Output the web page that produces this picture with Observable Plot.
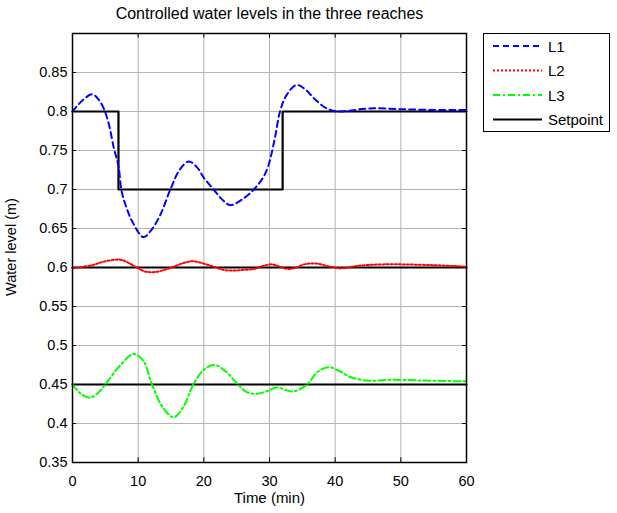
<!DOCTYPE html>
<html><head><meta charset="utf-8">
<script src="https://cdn.jsdelivr.net/npm/d3@7"></script>
<script src="https://cdn.jsdelivr.net/npm/@observablehq/plot@0.6"></script>
<style>
body{margin:0;background:#fff;font-family:"Liberation Sans",Arial,sans-serif;}
#wrap{position:relative;width:617px;height:513px;}
#title{position:absolute;left:72px;width:395px;top:5px;text-align:center;font-size:16px;color:#000;}
#legend{position:absolute;left:483px;top:33px;width:127px;height:99px;border:1px solid #000;box-sizing:border-box;background:#fff;}
#legend svg{display:block}
#ylab{position:absolute;left:11px;top:247px;transform:translate(-50%,-50%) rotate(-90deg);font-size:14.5px;white-space:nowrap;}
#xlab{position:absolute;left:72px;width:395px;top:489px;text-align:center;font-size:15px;}
</style></head>
<body><div id="wrap">
<div id="chart"></div>
<div id="title">Controlled water levels in the three reaches</div>
<div id="ylab">Water level (m)</div>
<div id="xlab">Time (min)</div>
<div id="legend"></div>
</div>
<script>
const seriesNames = ["L1","L2","L3","Setpoint"];
const xTicks = [0,10,20,30,40,50,60];
const yTicks = [0.35,0.4,0.45,0.5,0.55,0.6,0.65,0.7,0.75,0.8,0.85];
const yTickLabels = ["0.35","0.4","0.45","0.5","0.55","0.6","0.65","0.7","0.75","0.8","0.85"];

const tL1 = [0,1.5,3.0,4.0,4.75,5.5,6.3,7.0,7.5,8.3,9.1,10.8,12.0,13.4,14.9,16.3,17.7,19.0,20.0,21.5,22.7,24.0,25.8,27.6,29.0,29.8,30.8,31.6,32.6,34.1,35.5,37.0,38.7,40.2,42.0,45.3,49.8,55,60];
const vL1 = [0.800,0.814,0.822,0.815,0.804,0.785,0.753,0.730,0.697,0.675,0.659,0.639,0.648,0.668,0.700,0.725,0.736,0.728,0.715,0.700,0.688,0.680,0.687,0.700,0.715,0.730,0.765,0.800,0.821,0.834,0.828,0.815,0.804,0.800,0.801,0.804,0.803,0.802,0.802];

const tL2 = [0,3,5,7.3,8.5,9.8,11,12.4,14,15.4,17,18.4,20,21.5,23,24.5,26,27.6,29,30.4,31.6,32.8,34.1,35.3,37.2,39.2,41.2,43.3,47.3,54.9,60];
const vL2 = [0.599,0.603,0.608,0.610,0.606,0.600,0.595,0.594,0.597,0.601,0.606,0.608,0.605,0.601,0.597,0.596,0.597,0.598,0.602,0.604,0.601,0.598,0.600,0.604,0.605,0.601,0.599,0.602,0.604,0.603,0.601];

const tL3 = [0,1.3,2.7,4,5,7,9.3,10.8,12.1,13.8,15.4,16.8,18.4,20,21.7,23.3,25,26.4,27.8,29.5,31.1,33.6,35.7,37.3,39,40.5,42.2,44.8,48.8,53.9,60];
const vL3 = [0.450,0.438,0.433,0.440,0.450,0.472,0.489,0.480,0.450,0.420,0.408,0.420,0.450,0.469,0.475,0.467,0.452,0.441,0.438,0.441,0.446,0.441,0.450,0.466,0.472,0.468,0.460,0.455,0.456,0.455,0.454];

const tSP1 = [0,7,7,32,32,60];
const vSP1 = [0.8,0.8,0.7,0.7,0.8,0.8];
const tSP = [0,60];
const vSP2 = [0.6,0.6];
const vSP3 = [0.45,0.45];

const colors = {L1:"#0000ff", L2:"#ff0000", L3:"#00ff00", Setpoint:"#000000"};
const dashes = {L1:"6,4", L2:"2,2", L3:"7,3,2,3", Setpoint:null};

const mk = (t,v) => t.map((x,i)=>({t:x, v:v[i]}));
const d1 = mk(tL1,vL1), d2 = mk(tL2,vL2), d3_ = mk(tL3,vL3);

const plot = Plot.plot({
  width:617, height:513,
  marginLeft:72, marginRight:151, marginTop:33, marginBottom:51,
  style:{fontFamily:"Liberation Sans, Arial, sans-serif", fontSize:"14.5px", color:"#000", background:"#fff"},
  x:{domain:[0,60], ticks:xTicks, tickSize:0, tickPadding:13, label:null},
  y:{domain:[0.35,0.9], ticks:yTicks, tickSize:0, tickPadding:5, label:null,
     tickFormat:d=>yTickLabels[yTicks.findIndex(v=>Math.abs(v-d)<1e-9)]},
  marks:[
    Plot.gridX(xTicks,{stroke:"#b4b4b4", strokeOpacity:1, strokeWidth:1}),
    Plot.gridY(yTicks,{stroke:"#b4b4b4", strokeOpacity:1, strokeWidth:1}),
    Plot.ruleY(yTicks,{x1:0, x2:0.6, stroke:"#000"}),
    Plot.ruleY(yTicks,{x1:59.4, x2:60, stroke:"#000"}),
    Plot.ruleX(xTicks,{y1:0.35, y2:0.356, stroke:"#000"}),
    Plot.ruleX(xTicks,{y1:0.894, y2:0.9, stroke:"#000"}),
    Plot.line(mk(tSP1,vSP1),{x:"t", y:"v", stroke:"#000", strokeWidth:2.2}),
    Plot.line(mk(tSP,vSP2),{x:"t", y:"v", stroke:"#000", strokeWidth:2.2}),
    Plot.line(mk(tSP,vSP3),{x:"t", y:"v", stroke:"#000", strokeWidth:2.2}),
    Plot.line(d1,{x:"t", y:"v", stroke:colors.L1, strokeWidth:2, strokeDasharray:dashes.L1, curve:"catmull-rom"}),
    Plot.line(d2,{x:"t", y:"v", stroke:colors.L2, strokeWidth:2, strokeDasharray:dashes.L2, curve:"catmull-rom"}),
    Plot.line(d3_,{x:"t", y:"v", stroke:colors.L3, strokeWidth:2, strokeDasharray:dashes.L3, curve:"catmull-rom"}),
    Plot.frame({stroke:"#000", strokeWidth:1.5})
  ]
});
document.getElementById("chart").appendChild(plot);

// legend
const lg = d3.select("#legend").append("svg").attr("width",125).attr("height",97);
seriesNames.forEach((n,i)=>{
  const y = 12 + i*24.5;
  lg.append("line").attr("x1",9).attr("x2",58).attr("y1",y).attr("y2",y)
    .attr("stroke",colors[n]).attr("stroke-width",2)
    .attr("stroke-dasharray",dashes[n]||null);
  lg.append("text").attr("x",64).attr("y",y+5.5).text(n)
    .attr("font-size",15).attr("font-family","Liberation Sans, Arial, sans-serif");
});
</script>
</body></html>
